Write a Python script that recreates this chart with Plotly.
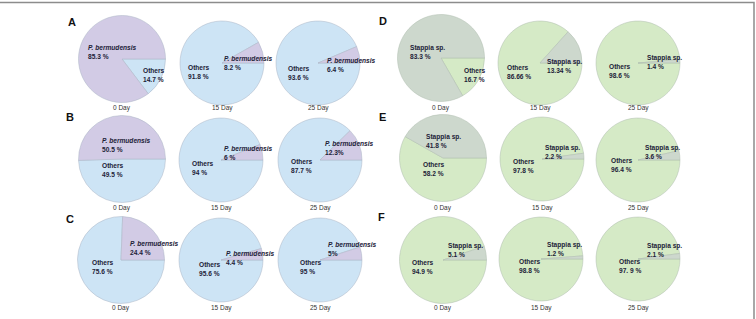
import plotly.graph_objects as go

# ---------------- data ----------------
panels = ["A", "B", "C", "D", "E", "F"]
days = ["0 Day", "15 Day", "25 Day"]

# organism name per panel
organism = ["P. bermudensis", "P. bermudensis", "P. bermudensis",
            "Stappia sp.", "Stappia sp.", "Stappia sp."]

# percentage of the named organism (per day)
org_A = [85.3, 8.2, 6.4]
org_B = [50.5, 6.0, 12.3]
org_C = [24.4, 4.4, 5.0]
org_D = [83.3, 13.34, 1.4]
org_E = [41.8, 2.2, 3.6]
org_F = [5.1, 1.2, 2.1]

# percentage of others (per day)
oth_A = [14.7, 91.8, 93.6]
oth_B = [49.5, 94.0, 87.7]
oth_C = [75.6, 95.6, 95.0]
oth_D = [16.7, 86.66, 98.6]
oth_E = [58.2, 97.8, 96.4]
oth_F = [94.9, 98.8, 97.9]

# printed value labels (as they appear in the figure)
org_lbl_A = ["85.3 %", "8.2 %", "6.4 %"]
org_lbl_B = ["50.5 %", "6 %", "12.3%"]
org_lbl_C = ["24.4 %", "4.4 %", "5%"]
org_lbl_D = ["83.3 %", "13.34 %", "1.4 %"]
org_lbl_E = ["41.8 %", "2.2 %", "3.6 %"]
org_lbl_F = ["5.1 %", "1.2 %", "2.1 %"]

oth_lbl_A = ["14.7 %", "91.8 %", "93.6 %"]
oth_lbl_B = ["49.5 %", "94 %", "87.7 %"]
oth_lbl_C = ["75.6 %", "95.6 %", "95 %"]
oth_lbl_D = ["16.7 %", "86.66 %", "98.6 %"]
oth_lbl_E = ["58.2 %", "97.8 %", "96.4 %"]
oth_lbl_F = ["94.9 %", "98.8 %", "97. 9 %"]

org_vals = [org_A, org_B, org_C, org_D, org_E, org_F]
oth_vals = [oth_A, oth_B, oth_C, oth_D, oth_E, oth_F]
org_lbls = [org_lbl_A, org_lbl_B, org_lbl_C, org_lbl_D, org_lbl_E, org_lbl_F]
oth_lbls = [oth_lbl_A, oth_lbl_B, oth_lbl_C, oth_lbl_D, oth_lbl_E, oth_lbl_F]

# ---------------- layout / style (pixels) ----------------
W, H = 756, 319
centers = [
    [(122, 59), (222, 63), (318, 63)],
    [(122, 159), (221, 160), (320, 160)],
    [(121, 260), (221, 260), (320, 260)],
    [(441, 58), (540, 63), (638, 63)],
    [(443, 158), (542, 159), (638, 160)],
    [(443, 260), (541, 259), (638, 259)],
]
diam = [87, 84, 84]
letter_pos = [(72, 22), (70, 117), (70, 219), (383, 21), (382, 117), (381, 217)]
day_y = [108, 208, 308, 108, 208, 308]

# label offsets (left edge, vertical middle) relative to pie centre
org_off = [
    [(-36, -7.5), (0, 0.5), (7, 1.5)],
    [(-22, -14.5), (1, -7.5), (3, -11.5)],
    [(7, -12.5), (3, -2.5), (6, -11.5)],
    [(-33, -6.5), (5, 2.5), (7, -0.5)],
    [(-19, -17.5), (1, -7.5), (5, -8.5)],
    [(3, -10.5), (4, -10.5), (7, -9.5)],
]
oth_off = [
    [(19, 15.5), (-36, 8.5), (-32, 9.5)],
    [(-22, 10.5), (-31, 7.5), (-31, 5.5)],
    [(-31, 6.5), (-24, 8.5), (-22, 6.5)],
    [(21, 16.5), (-35, 8.5), (-31, 7.5)],
    [(-22, 10.5), (-31, 6.5), (-29, 4.5)],
    [(-33, 6.5), (-24, 6.5), (-21, 6.5)],
]

col_org = ["#d2cbe5", "#d2cbe5", "#d2cbe5", "#cdd8cd", "#cdd8cd", "#cdd8cd"]
col_oth = ["#cde4f5", "#cde4f5", "#cde4f5", "#d5eac6", "#d5eac6", "#d5eac6"]
line_col = ["#aab4c4", "#aab4c4", "#aab4c4", "#aebcae", "#aebcae", "#aebcae"]

FONT = "Liberation Sans, Arial, sans-serif"
TXT = "#1d2238"
FS = 6.6


def px(x):
    return x / W


def py(y):
    return 1 - y / H


fig = go.Figure()
annotations = []

for p in range(6):
    for d in range(3):
        cx, cy = centers[p][d]
        r = diam[d] / 2
        fig.add_trace(go.Pie(
            labels=["Others", organism[p]],
            values=[oth_vals[p][d], org_vals[p][d]],
            sort=False,
            direction="clockwise",
            rotation=90,
            textinfo="none",
            hoverinfo="label+percent",
            showlegend=False,
            marker=dict(colors=[col_oth[p], col_org[p]],
                        line=dict(color=line_col[p], width=0.5)),
            domain=dict(x=[px(cx - r), px(cx + r)], y=[py(cy + r), py(cy - r)]),
        ))
        name = organism[p]
        if name.startswith("P."):
            name_html = "<b><i>" + name + "</i></b>"
        else:
            name_html = "<b>" + name + "</b>"
        ox, oy = org_off[p][d]
        annotations.append(dict(
            x=px(cx + ox), y=py(cy + oy), xref="paper", yref="paper",
            text=name_html + "<br><b>" + org_lbls[p][d] + "</b>",
            showarrow=False, xanchor="left", yanchor="middle", align="left",
            font=dict(family=FONT, size=FS, color=TXT)))
        ox, oy = oth_off[p][d]
        annotations.append(dict(
            x=px(cx + ox), y=py(cy + oy), xref="paper", yref="paper",
            text="<b>Others</b><br><b>" + oth_lbls[p][d] + "</b>",
            showarrow=False, xanchor="left", yanchor="middle", align="left",
            font=dict(family=FONT, size=FS, color=TXT)))
        annotations.append(dict(
            x=px(cx), y=py(day_y[p]), xref="paper", yref="paper",
            text=days[d], showarrow=False, xanchor="center", yanchor="middle",
            font=dict(family=FONT, size=6.5, color="#333333")))
    lx, ly = letter_pos[p]
    annotations.append(dict(
        x=px(lx), y=py(ly), xref="paper", yref="paper",
        text="<b>" + panels[p] + "</b>", showarrow=False,
        xanchor="center", yanchor="middle",
        font=dict(family=FONT, size=11, color="#111111")))

fig.update_layout(
    width=W, height=H,
    margin=dict(l=0, r=0, t=0, b=0),
    paper_bgcolor="white", plot_bgcolor="white",
    annotations=annotations,
    shapes=[dict(type="rect", xref="paper", yref="paper",
                 x0=-0.01, x1=px(754), y0=-0.01, y1=py(2.5),
                 line=dict(color="#8c8c8c", width=1.5))],
)

fig.write_html("out.html", config={"displayModeBar": False})
